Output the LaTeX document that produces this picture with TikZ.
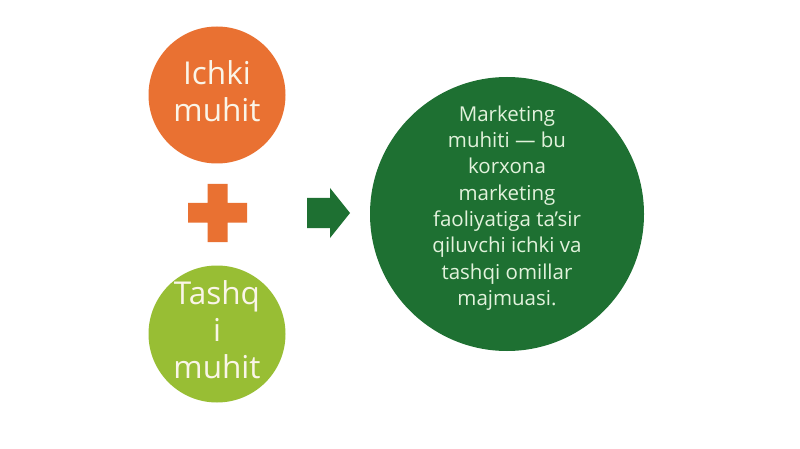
\documentclass[tikz,border=0pt]{standalone}
\usepackage{fontspec}
\setmainfont{Open Sans}
\definecolor{orangeF}{RGB}{233,113,50}
\definecolor{lgreenF}{RGB}{152,190,52}
\definecolor{dgreenF}{RGB}{30,112,50}
\definecolor{txtL}{RGB}{250,245,232}
\definecolor{txtG}{RGB}{226,242,220}
\begin{document}
\begin{tikzpicture}[x=1pt,y=-1pt,
  disc/.style={circle,inner sep=0pt,draw=none},
  smalltxt/.style={text=txtL,align=center,inner sep=0pt,font=\fontsize{31.5}{37}\selectfont},
  bigtxt/.style={text=txtG,align=center,inner sep=0pt,font=\fontsize{20.5}{26.3}\selectfont}]
\useasboundingbox[fill=white] (0,0) rectangle (800,449);
% circles
\node[disc,fill=orangeF,minimum size=137pt] (inner) at (217,95) {};
\node[disc,fill=lgreenF,minimum size=137pt] (outer) at (217,334) {};
\node[disc,fill=dgreenF,minimum size=274pt] (result) at (507,214) {};
% texts
\node[smalltxt] (innerT) at (217,91) {Ichki\\muhit};
\node[smalltxt] (outerT) at (217,330) {Tashq\\i\\muhit};
\node[bigtxt] (resultT) at (507,208) {Marketing\\muhiti — bu\\korxona\\marketing\\faoliyatiga ta’sir\\qiluvchi ichki va\\tashqi omillar\\majmuasi.};
% plus sign
\fill[orangeF] (207.5,184) -- (227.5,184) -- (227.5,203) -- (247,203) -- (247,222.5) -- (227.5,222.5) -- (227.5,242) -- (207.5,242) -- (207.5,222.5) -- (188,222.5) -- (188,203) -- (207.5,203) -- cycle;
% arrow
\fill[dgreenF] (307,198) -- (330,198) -- (330,188) -- (350,213) -- (330,238) -- (330,228) -- (307,228) -- cycle;
\end{tikzpicture}
\end{document}
